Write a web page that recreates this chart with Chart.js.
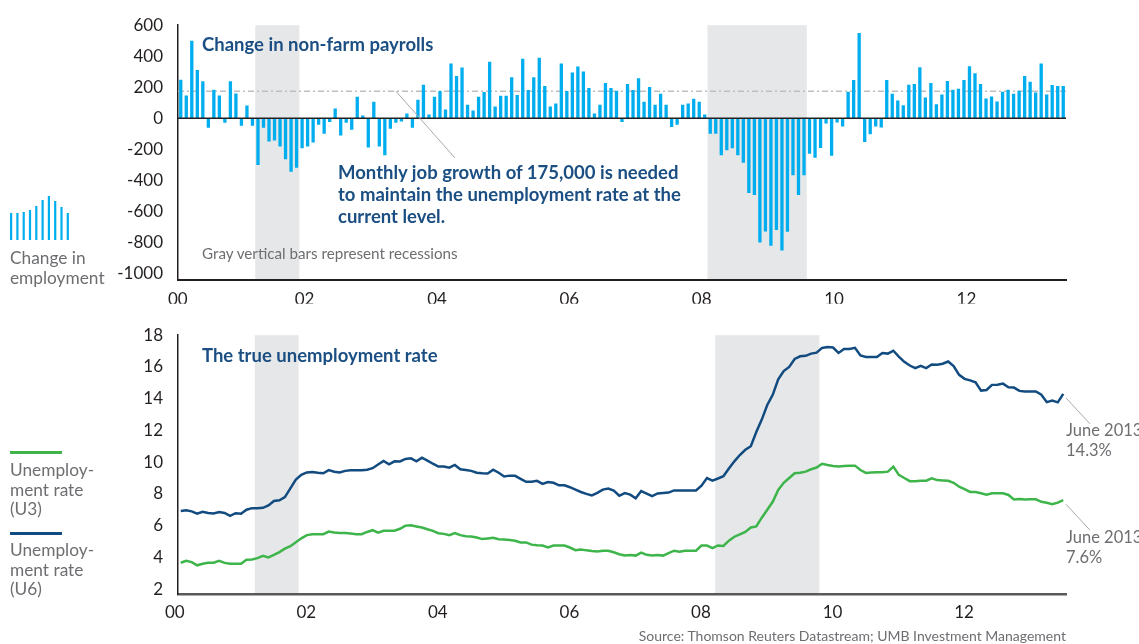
<!DOCTYPE html>
<html lang="en">
<head>
<meta charset="utf-8">
<title>Payrolls and unemployment</title>
<script src="https://cdn.jsdelivr.net/npm/chart.js@4.4.1/dist/chart.umd.min.js"></script>
<style>
  html, body { margin: 0; padding: 0; background: #fff; }
  body { position: relative; width: 1139px; height: 644px; overflow: hidden; font-family: Lato, "Open Sans", sans-serif; }
  canvas { position: absolute; left: 0; }
  #payrollCanvas { top: 0; }
  #rateCanvas { top: 310px; }
  .label { position: absolute; white-space: nowrap; }
  .heading { color: #1b4f83; font-weight: 700; font-size: 18.5px; line-height: 22px; }
  .grey { color: #6d6e71; }
  .side { left: 10px; font-size: 17.3px; line-height: 19.5px; }
  .swatch { position: absolute; left: 10px; width: 52px; height: 2.5px; }
</style>
</head>
<body>
<canvas id="payrollCanvas" width="1139" height="305"></canvas>
<canvas id="rateCanvas" width="1139" height="334"></canvas>

<div class="label heading" style="left:202px; top:33px">Change in non-farm payrolls</div>
<div class="label heading" style="left:338px; top:161px">Monthly job growth of 175,000 is needed<br>to maintain the unemployment rate at the<br>current level.</div>
<div class="label grey" style="left:202px; top:244px; font-size:15.2px; line-height:18px">Gray vertical bars represent recessions</div>
<div class="label heading" style="left:202px; top:344px">The true unemployment rate</div>

<div class="label grey side" style="top:248px">Change in<br>employment</div>
<div class="swatch" id="u3Swatch" style="top:451px"></div>
<div class="label grey side" style="top:460px">Unemploy-<br>ment rate<br>(U3)</div>
<div class="swatch" id="u6Swatch" style="top:532px"></div>
<div class="label grey side" style="top:540px">Unemploy-<br>ment rate<br>(U6)</div>

<div class="label grey" style="right:73px; top:627px; font-size:14px; line-height:18px">Source: Thomson Reuters Datastream; UMB Investment Management</div>

<script>
// ==============================
// DATA
// ==============================
const payrollMonths = monthRange("2000-02", "2013-06");
const rateMonths    = monthRange("2000-01", "2013-06");

// monthly change in non-farm payrolls, thousands (Feb 2000 - Jun 2013)
const payrolls = [
          248, 147, 500, 311, 239, -61, 185, 147, -29, 239, 160,   // 2000
   -48,  82, -48,-300, -61,-149,-143,-181,-263,-344,-319,-193,    // 2001
  -181,-155, -42, -99, -23,  63,-111, -29, -74, 139,  19,-187,    // 2002
   107,-181,-237, -67, -29, -21,  32, -61, 120, 216,  25, 139,    // 2003
   176,  57, 353, 273, 328,  88,  50, 139, 170, 365,  76, 145,    // 2004
   145, 265, 151, 384, 183, 265, 391, 208,  76,  95, 353, 176,    // 2005
   296, 334, 302, 195,  32,  88, 227, 195, 176, -23, 221, 183,    // 2006
   258, 107, 202,  88, 158,  88, -55, -42,  88,  95, 126, 107,    // 2007
    25, -99, -99,-237,-206,-193,-237,-286,-481,-494,-799,-729,    // 2008
  -820,-719,-851,-731,-367,-493,-367,-228,-254,-191, -34,-241,    // 2009
   -27, -52, 172, 247, 549,-153,-103, -52, -59, 247, 159, 115,    // 2010
    84, 216, 222, 329, 134, 228,  90, 153, 241, 184, 191, 247,    // 2011
   335, 291, 222, 128, 140, 109, 172, 184, 159, 178, 272, 235,    // 2012
   166, 354, 153, 214, 208, 208                                   // 2013
];

// U6 rate, % (Jan 2000 - Jun 2013)
const u6 = [
  6.92, 6.97, 6.90, 6.75, 6.87, 6.80, 6.77, 6.86, 6.80, 6.62, 6.78, 6.75,
  7.00, 7.10, 7.10, 7.12, 7.27, 7.55, 7.60, 7.80, 8.35, 8.90, 9.20, 9.35,
  9.38, 9.33, 9.30, 9.50, 9.40, 9.35, 9.45, 9.49, 9.49, 9.49, 9.52, 9.62,
  9.85,10.07, 9.86,10.05,10.04,10.20,10.24,10.05,10.28,10.10, 9.90, 9.72,
  9.72, 9.65, 9.82, 9.55, 9.50, 9.45, 9.33, 9.30, 9.28, 9.52, 9.33, 9.10,
  9.15, 9.14, 8.95, 8.76, 8.76, 8.82, 8.63, 8.75, 8.70, 8.54, 8.54, 8.42,
  8.27, 8.12, 8.00, 7.90, 8.06, 8.27, 8.33, 8.20, 7.88, 8.05, 7.95, 7.72,
  8.18, 8.02, 7.86, 8.03, 8.06, 8.08, 8.22, 8.22, 8.22, 8.22, 8.22, 8.52,
  9.00, 8.84, 8.97, 9.11, 9.60,10.05,10.45,10.78,11.00,11.90,12.68,13.60,
  14.24,15.22,15.74,16.00,16.50,16.67,16.70,16.84,16.90,17.20,17.25,17.22,
  16.88,17.13,17.13,17.20,16.72,16.63,16.63,16.63,16.88,16.84,17.02,16.65,
  16.32,16.09,15.92,16.07,15.93,16.15,16.14,16.20,16.34,16.05,15.50,15.25,
  15.15,15.03,14.51,14.55,14.87,14.88,14.95,14.72,14.70,14.49,14.45,14.45,
  14.45,14.25,13.78,13.88,13.77,14.3
];

// U3 rate, % (Jan 2000 - Jun 2013)
const u3 = [
  3.66, 3.78, 3.70, 3.50, 3.60, 3.66, 3.66, 3.78, 3.65, 3.59, 3.59, 3.59,
  3.85, 3.87, 3.95, 4.10, 4.00, 4.15, 4.33, 4.55, 4.70, 4.95, 5.20, 5.40,
  5.46, 5.46, 5.46, 5.62, 5.56, 5.53, 5.53, 5.50, 5.46, 5.46, 5.60, 5.71,
  5.55, 5.67, 5.67, 5.68, 5.80, 6.00, 6.02, 5.95, 5.88, 5.77, 5.67, 5.52,
  5.48, 5.40, 5.53, 5.40, 5.33, 5.32, 5.25, 5.15, 5.19, 5.23, 5.14, 5.13,
  5.10, 5.05, 4.94, 4.94, 4.80, 4.76, 4.74, 4.63, 4.74, 4.74, 4.74, 4.62,
  4.45, 4.50, 4.44, 4.40, 4.37, 4.42, 4.42, 4.32, 4.20, 4.12, 4.15, 4.11,
  4.30, 4.16, 4.11, 4.15, 4.11, 4.27, 4.42, 4.36, 4.42, 4.42, 4.42, 4.74,
  4.74, 4.58, 4.75, 4.72, 5.05, 5.30, 5.45, 5.60, 5.88, 5.95, 6.50, 7.00,
  7.50, 8.25, 8.70, 9.00, 9.30, 9.33, 9.40, 9.55, 9.66, 9.90, 9.82, 9.76,
  9.72, 9.75, 9.78, 9.78, 9.50, 9.32, 9.35, 9.37, 9.37, 9.40, 9.72, 9.20,
  9.00, 8.80, 8.79, 8.82, 8.83, 8.98, 8.87, 8.85, 8.83, 8.70, 8.45, 8.30,
  8.12, 8.12, 8.04, 7.95, 8.04, 8.04, 8.04, 7.93, 7.65, 7.68, 7.64, 7.66,
  7.66, 7.50, 7.44, 7.35, 7.45, 7.6
];

// recession shading, first and last month of each band
const payrollRecessions = [["2001-04", "2001-11"], ["2008-02", "2009-07"]];
const rateRecessions    = [["2001-03", "2001-10"], ["2008-03", "2009-09"]];

const payrollTicks = [600, 400, 200, 0, -200, -400, -600, -800, -1000];
const rateTicks    = [18, 16, 14, 12, 10, 8, 6, 4, 2];

const NEEDED_GROWTH = 175;
const MONTH_NAMES = ["January", "February", "March", "April", "May", "June", "July",
                     "August", "September", "October", "November", "December"];

// ==============================
// STYLE
// ==============================
const BAR_BLUE = "#00aeef";
const U6_NAVY  = "#124b80";
const U3_GREEN = "#3db54a";
const SHADE    = "#e6e7e8";
const AXIS     = "#231f20";
const NOTE     = "#6d6e71";
const TICK_FONT = { family: "Lato", size: 17 };

Chart.defaults.font.family = "Lato";
document.getElementById("u3Swatch").style.background = U3_GREEN;
document.getElementById("u6Swatch").style.background = U6_NAVY;

// ==============================
// HELPERS
// ==============================
function monthRange(from, to){
    let [y, m] = from.split("-").map(Number);
    const [ey, em] = to.split("-").map(Number);
    const out = [];
    while(y < ey || (y === ey && m <= em)){
        out.push(y + "-" + String(m).padStart(2, "0"));
        if(++m > 12){ m = 1; y++; }
    }
    return out;
}

// "00", "02", ... on the first month and on every even-year January
function yearLabel(months){
    return (value, index) => {
        const [y, m] = months[index].split("-");
        if(index === 0 || (m === "01" && Number(y) % 2 === 0)) return y.slice(2);
        return "";
    };
}

function fixedTicks(list){
    return scale => { scale.ticks = list.map(v => ({ value: v })); };
}

// ==============================
// PLUGINS
// ==============================
const recessionShading = {
    id: "recessionShading",
    beforeDraw(chart, args, opts){
        const { ctx, chartArea: area, scales: { x } } = chart;
        const labels = chart.data.labels;
        const half = x.width / labels.length / 2;
        ctx.save();
        ctx.fillStyle = SHADE;
        for(const [from, to] of opts.bands){
            const left  = x.getPixelForValue(labels.indexOf(from)) - half;
            const right = x.getPixelForValue(labels.indexOf(to)) + half;
            ctx.fillRect(left, area.top, right - left, area.bottom - area.top);
        }
        ctx.restore();
    }
};

const iconHeights = [27, 27, 28, 30, 34, 40, 44, 39, 33, 27];

const payrollMarks = {
    id: "payrollMarks",
    beforeDatasetsDraw(chart){
        const { ctx, chartArea: area, scales: { y } } = chart;
        const yn = y.getPixelForValue(NEEDED_GROWTH);
        ctx.save();
        ctx.strokeStyle = "#bcbec0";
        ctx.lineWidth = 1.5;
        ctx.setLineDash([6, 3, 2, 3]);
        ctx.beginPath();
        ctx.moveTo(area.left, yn);
        ctx.lineTo(area.right, yn);
        ctx.stroke();
        ctx.restore();
    },
    afterDatasetsDraw(chart){
        const { ctx, chartArea: area, scales: { x, y } } = chart;
        const y0 = y.getPixelForValue(0);
        ctx.save();
        // zero line
        ctx.strokeStyle = AXIS;
        ctx.lineWidth = 1.5;
        ctx.beginPath();
        ctx.moveTo(area.left, y0);
        ctx.lineTo(area.right, y0);
        ctx.stroke();

        // pointer from the 175k line to the note
        ctx.strokeStyle = "#a7a9ac";
        ctx.lineWidth = 1;
        ctx.beginPath();
        ctx.moveTo(x.getPixelForValue(39), y.getPixelForValue(NEEDED_GROWTH));
        ctx.lineTo(455, 158);
        ctx.stroke();

        // little bar icon for the side legend
        ctx.fillStyle = BAR_BLUE;
        iconHeights.forEach((h, k) => ctx.fillRect(10 + k * 6.3, 240 - h, 2.2, h));
        ctx.restore();
    }
};

const lastValueNotes = {
    id: "lastValueNotes",
    afterDatasetsDraw(chart){
        const { ctx, chartArea: area } = chart;
        const labels = chart.data.labels;
        const [ly, lm] = labels[labels.length - 1].split("-");
        const when = MONTH_NAMES[Number(lm) - 1] + " " + ly;
        ctx.save();
        ctx.font = "16.5px Lato";
        ctx.fillStyle = NOTE;
        ctx.strokeStyle = "#a7a9ac";
        ctx.lineWidth = 1;
        ctx.textBaseline = "middle";
        chart.data.datasets.forEach((ds, i) => {
            const pt = chart.getDatasetMeta(i).data[ds.data.length - 1];
            const x0 = area.right;
            ctx.beginPath();
            ctx.moveTo(x0, pt.y + 4);
            ctx.lineTo(x0 + 24, pt.y + 30);
            ctx.stroke();
            ctx.fillText(when, x0, pt.y + 37);
            ctx.fillText(ds.data[ds.data.length - 1].toFixed(1) + "%", x0, pt.y + 57);
        });
        ctx.restore();
    }
};

// ==============================
// CHARTS
// ==============================
new Chart(document.getElementById("payrollCanvas"), {
    type: "bar",
    data: {
        labels: payrollMonths,
        datasets: [{
            data: payrolls,
            backgroundColor: BAR_BLUE,
            barPercentage: 0.6,
            categoryPercentage: 1
        }]
    },
    options: {
        responsive: false,
        animation: false,
        devicePixelRatio: 1,
        layout: { padding: { top: 19.5, right: 73, left: 0, bottom: 0 } },
        plugins: {
            legend: { display: false },
            tooltip: { enabled: false },
            recessionShading: { bands: payrollRecessions }
        },
        scales: {
            x: {
                offset: true,
                grid: { display: false, drawTicks: false },
                border: { display: true, color: AXIS, width: 2 },
                ticks: { autoSkip: false, maxRotation: 0, padding: 10, labelOffset: -3,
                         color: AXIS, font: TICK_FONT, callback: yearLabel(payrollMonths) },
                afterFit: s => { s.height = 24; }
            },
            y: {
                min: -1040,
                max: 600,
                afterBuildTicks: fixedTicks(payrollTicks),
                grid: { display: false, drawTicks: false },
                border: { display: true, color: AXIS, width: 1.5 },
                ticks: { padding: 15, color: AXIS, font: TICK_FONT, callback: v => v },
                afterFit: s => { s.width = 178; }
            }
        }
    },
    plugins: [recessionShading, payrollMarks]
});

new Chart(document.getElementById("rateCanvas"), {
    type: "line",
    data: {
        labels: rateMonths,
        datasets: [
            { label: "U6", data: u6, borderColor: U6_NAVY, borderWidth: 2.5, pointRadius: 0, tension: 0 },
            { label: "U3", data: u3, borderColor: U3_GREEN, borderWidth: 2.5, pointRadius: 0, tension: 0 }
        ]
    },
    options: {
        responsive: false,
        animation: false,
        devicePixelRatio: 1,
        layout: { padding: { top: 22, right: 73, left: 0, bottom: 0 } },
        plugins: {
            legend: { display: false },
            tooltip: { enabled: false },
            recessionShading: { bands: rateRecessions }
        },
        scales: {
            x: {
                offset: true,
                grid: { display: false, drawTicks: false },
                border: { display: true, color: "#58595b", width: 2.5 },
                ticks: { autoSkip: false, maxRotation: 0, padding: 8, labelOffset: -6,
                         color: AXIS, font: TICK_FONT, callback: yearLabel(rateMonths) },
                afterFit: s => { s.height = 50; }
            },
            y: {
                min: 1.69,
                max: 18,
                afterBuildTicks: fixedTicks(rateTicks),
                grid: { display: false, drawTicks: false },
                border: { display: true, color: AXIS, width: 1.5 },
                ticks: { padding: 15, color: AXIS, font: TICK_FONT, callback: v => v },
                afterFit: s => { s.width = 178; }
            }
        }
    },
    plugins: [recessionShading, lastValueNotes]
});
</script>
</body>
</html>
